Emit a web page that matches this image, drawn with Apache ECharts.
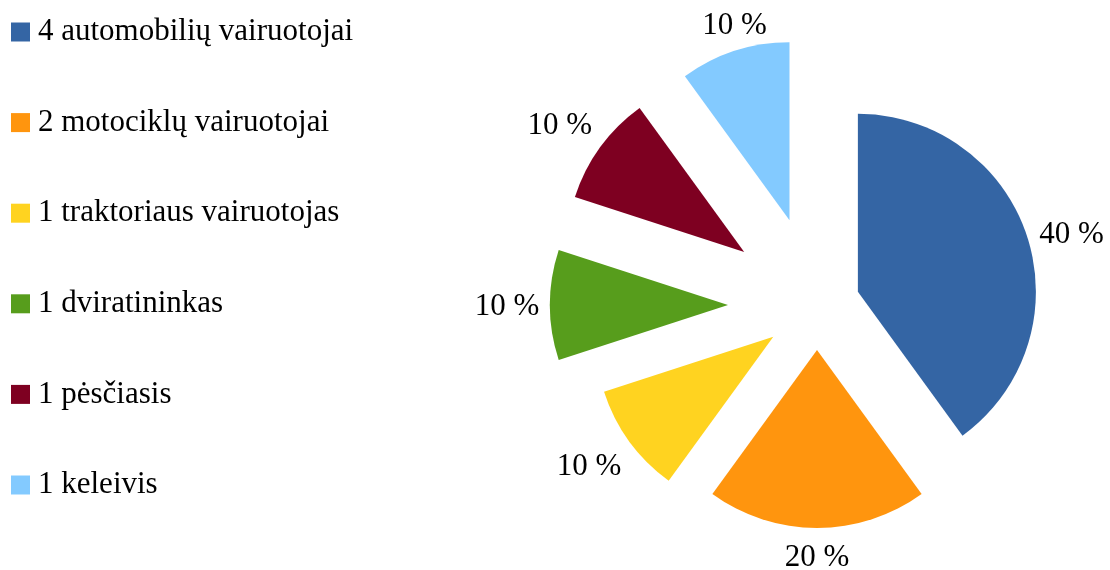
<!DOCTYPE html>
<html>
<head>
<meta charset="utf-8">
<script src="https://cdn.jsdelivr.net/npm/echarts@6/dist/echarts.min.js"></script>
<style>
html,body{margin:0;padding:0;background:#fff;}
#chart{width:1110px;height:570px;}
</style>
</head>
<body>
<div id="chart"></div>
<script>
// ---- data ----
const categories = ['4 automobilių vairuotojai', '2 motociklų vairuotojai', '1 traktoriaus vairuotojas', '1 dviratininkas', '1 pėsčiasis', '1 keleivis'];
const values = [4, 2, 1, 1, 1, 1];

// ---- styles ----
const colors = ['#3465A4', '#FF950E', '#FFD320', '#579D1C', '#7E0021', '#83CAFF'];
const explodeOffset = [43, 45, 54, 89, 90, 89];
const labelLen = [13, 28, 40, 43, 40, 29];
const labelDist = [32, 0, 8, 0, 8, -9];
const FONT = 'Liberation Serif';

const chart = echarts.init(document.getElementById('chart'));

const series = categories.map(function (cat, i) {
  return {
    type: 'pie',
    center: [817, 305],
    radius: 178,
    startAngle: 90,
    clockwise: true,
    silent: true,
    animation: false,
    avoidLabelOverlap: false,
    selectedMode: 'multiple',
    selectedOffset: explodeOffset[i],
    emphasis: { disabled: true },
    label: {
      show: true,
      position: 'outside',
      formatter: function (p) { return Math.round(p.percent) + ' %'; },
      fontFamily: FONT,
      fontSize: 31,
      color: '#000',
      distanceToLabelLine: labelDist[i]
    },
    labelLine: { show: false, length: labelLen[i], length2: 0 },
    labelLayout: { align: 'center', verticalAlign: 'middle', dy: 2 },
    data: values.map(function (v, j) {
      if (j === i) {
        return { name: categories[j], value: v, selected: true, itemStyle: { color: colors[j] } };
      }
      return { name: '', value: v, itemStyle: { color: 'rgba(0,0,0,0)' }, label: { show: false }, labelLine: { show: false } };
    })
  };
});

chart.setOption({
  backgroundColor: '#fff',
  legend: {
    orient: 'vertical',
    left: 11,
    top: 16.5,
    padding: 0,
    itemWidth: 19,
    itemHeight: 19,
    itemGap: 59.6,
    icon: 'rect',
    selectedMode: false,
    data: categories,
    textStyle: { fontFamily: FONT, fontSize: 31, color: '#000', padding: [0, 0, 0, 3] }
  },
  series: series
});
</script>
</body>
</html>
